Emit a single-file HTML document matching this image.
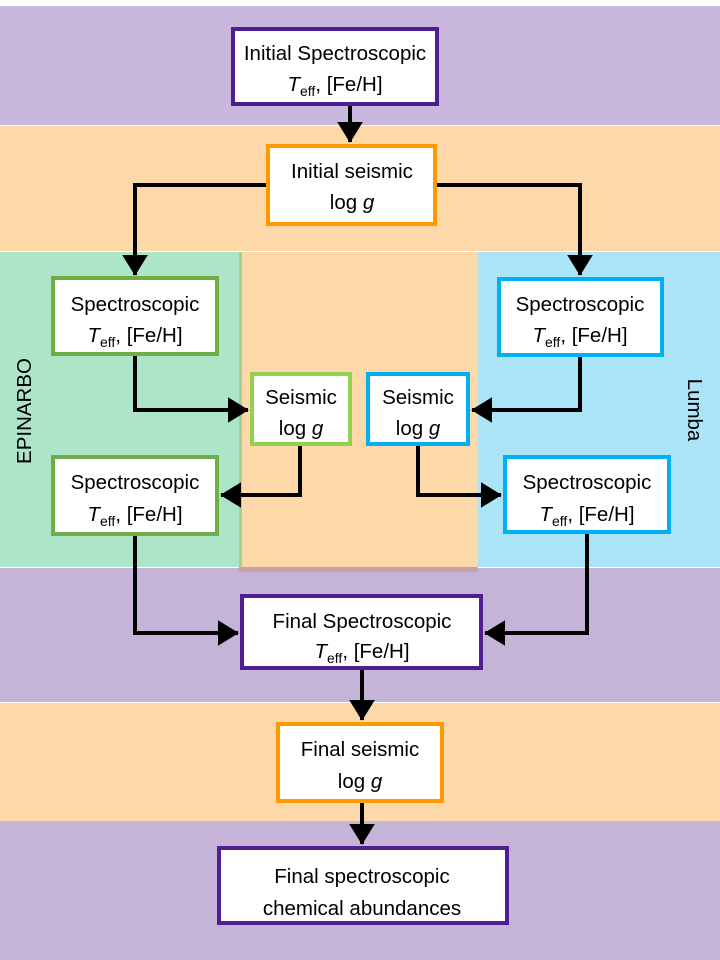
<!DOCTYPE html>
<html><head><meta charset="utf-8"><style>
html,body{margin:0;padding:0;background:#fff}
svg{display:block}
text{font-family:"Liberation Sans",sans-serif;font-size:20.5px;fill:#000}
</style></head><body>
<svg width="720" height="960" viewBox="0 0 720 960" xmlns="http://www.w3.org/2000/svg">
<defs>
<marker id="a" markerWidth="6" markerHeight="6.4" refX="5" refY="3.2" orient="auto" markerUnits="strokeWidth">
<path d="M0,0 L5.2,3.2 L0,6.4 z" fill="#000"/>
</marker>
</defs>
<rect x="0" y="0" width="720" height="960" fill="#fff"/>
<rect x="0" y="6" width="720" height="119" fill="#c9b8dd"/>
<rect x="0" y="126" width="720" height="125" fill="#fdd9aa"/>
<rect x="0" y="252" width="239" height="315" fill="#ade5c8"/>
<rect x="239" y="252" width="3" height="315" fill="#a6d095"/>
<rect x="478" y="252" width="242" height="315" fill="#abe3f7"/>
<rect x="0" y="568" width="720" height="134" fill="#c5b3d8"/>
<rect x="239" y="567" width="239" height="5" fill="#c8a0a8"/>
<rect x="242" y="252" width="236" height="315" fill="#fdd9aa"/>
<rect x="0" y="703" width="720" height="118" fill="#fdd9aa"/>
<rect x="0" y="821" width="720" height="1" fill="#e0b8a0"/>
<rect x="0" y="822" width="720" height="138" fill="#c5b3d8"/>

<g stroke="#000" stroke-width="4" fill="none" marker-end="url(#a)">
<path d="M350,106 V142"/>
<path d="M266,185 H135 V275"/>
<path d="M437,185 H580 V275"/>
<path d="M135,356 V410 H248"/>
<path d="M580,357 V410 H472"/>
<path d="M300,446 V495 H221"/>
<path d="M418,446 V495 H501"/>
<path d="M135,536 V633 H238"/>
<path d="M587,534 V633 H485"/>
<path d="M362,670 V720"/>
<path d="M362,803 V844"/>
</g>

<g stroke-width="4" fill="#fff">
<rect x="233" y="29" width="204" height="75" stroke="#4f1f8f"/>
<rect x="268" y="146" width="167" height="78" stroke="#ff9900"/>
<rect x="53" y="278" width="164" height="76" stroke="#70ad47"/>
<rect x="499" y="279" width="163" height="76" stroke="#00b0f0"/>
<rect x="252" y="374" width="98" height="70" stroke="#92d050"/>
<rect x="368" y="374" width="100" height="70" stroke="#00b0f0"/>
<rect x="53" y="457" width="164" height="77" stroke="#70ad47"/>
<rect x="505" y="457" width="164" height="75" stroke="#00b0f0"/>
<rect x="242" y="596" width="239" height="72" stroke="#4f1f8f"/>
<rect x="278" y="724" width="164" height="77" stroke="#ff9900"/>
<rect x="219" y="848" width="288" height="75" stroke="#4f1f8f"/>
</g>

<g text-anchor="middle">
<text x="335" y="60">Initial Spectroscopic</text>
<text x="335" y="91"><tspan font-style="italic">T</tspan><tspan font-size="14" dy="5">eff</tspan><tspan dy="-5">, [Fe/H]</tspan></text>
<text x="352" y="178">Initial seismic</text>
<text x="352" y="209">log <tspan font-style="italic">g</tspan></text>
<text x="135" y="311">Spectroscopic</text>
<text x="135" y="342"><tspan font-style="italic">T</tspan><tspan font-size="14" dy="5">eff</tspan><tspan dy="-5">, [Fe/H]</tspan></text>
<text x="580" y="311">Spectroscopic</text>
<text x="580" y="342"><tspan font-style="italic">T</tspan><tspan font-size="14" dy="5">eff</tspan><tspan dy="-5">, [Fe/H]</tspan></text>
<text x="301" y="404">Seismic</text>
<text x="301" y="435">log <tspan font-style="italic">g</tspan></text>
<text x="418" y="404">Seismic</text>
<text x="418" y="435">log <tspan font-style="italic">g</tspan></text>
<text x="135" y="489">Spectroscopic</text>
<text x="135" y="521"><tspan font-style="italic">T</tspan><tspan font-size="14" dy="5">eff</tspan><tspan dy="-5">, [Fe/H]</tspan></text>
<text x="587" y="489">Spectroscopic</text>
<text x="587" y="521"><tspan font-style="italic">T</tspan><tspan font-size="14" dy="5">eff</tspan><tspan dy="-5">, [Fe/H]</tspan></text>
<text x="362" y="628">Final Spectroscopic</text>
<text x="362" y="658"><tspan font-style="italic">T</tspan><tspan font-size="14" dy="5">eff</tspan><tspan dy="-5">, [Fe/H]</tspan></text>
<text x="360" y="756">Final seismic</text>
<text x="360" y="788">log <tspan font-style="italic">g</tspan></text>
<text x="362" y="883">Final spectroscopic</text>
<text x="362" y="915">chemical abundances</text>
<text transform="translate(31,411) rotate(-90)" font-size="21">EPINARBO</text>
<text transform="translate(688,410) rotate(90)" font-size="21">Lumba</text>
</g>
</svg>
</body></html>
